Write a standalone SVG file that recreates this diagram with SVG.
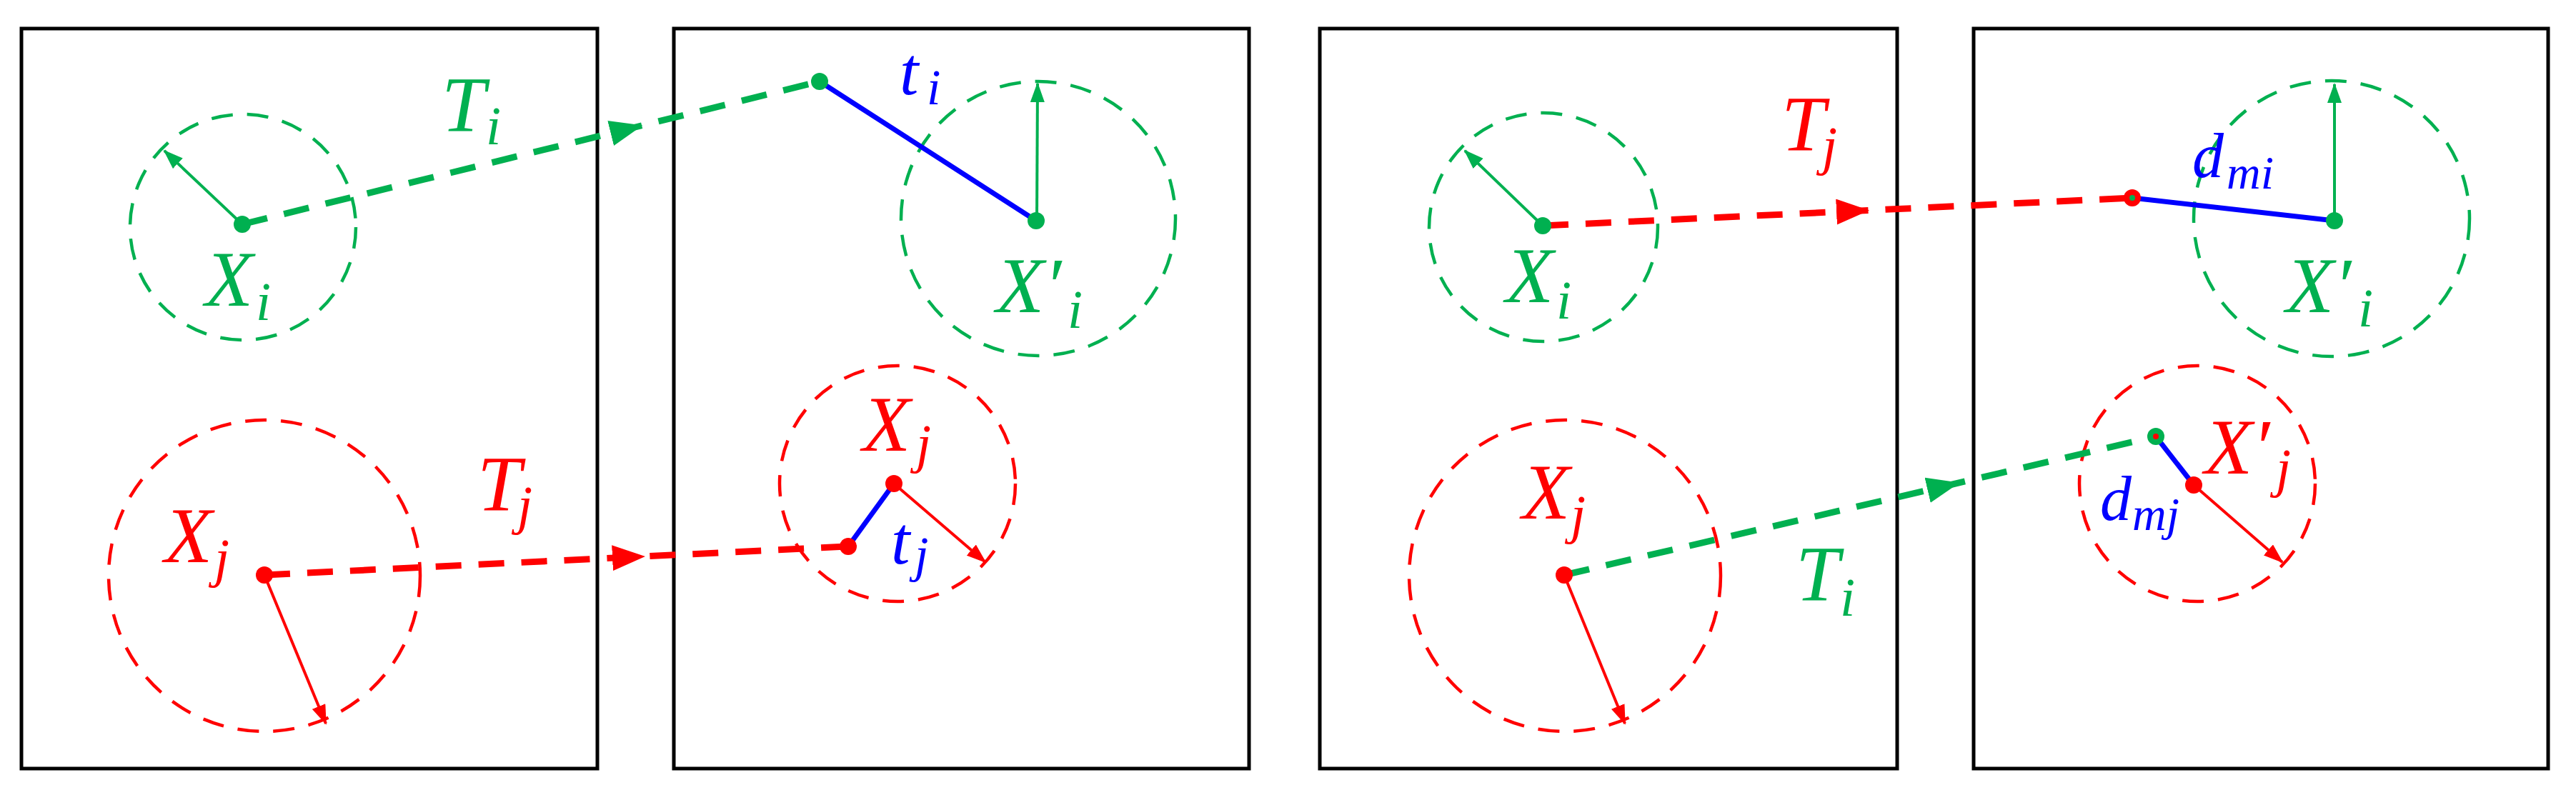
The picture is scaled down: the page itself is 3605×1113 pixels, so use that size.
<svg xmlns="http://www.w3.org/2000/svg" width="3605" height="1113" viewBox="0 0 3605 1113">
<style>
.panel{fill:#fff;stroke:#000;stroke-width:5}
.cg{fill:none;stroke:#00B050;stroke-width:4.5;stroke-dasharray:30 20}
.cr{fill:none;stroke:#FF0000;stroke-width:4.5;stroke-dasharray:30 20}
.rg{stroke:#00B050;stroke-width:4;fill:none;marker-end:url(#smG)}
.rr{stroke:#FF0000;stroke-width:4;fill:none;marker-end:url(#smR)}
.tg{stroke:#00B050;stroke-width:9;fill:none;stroke-dasharray:36 24;marker-mid:url(#ahG)}
.tr{stroke:#FF0000;stroke-width:9;fill:none;stroke-dasharray:36 24;marker-mid:url(#ahR)}
.bl{stroke:#0000FF;stroke-width:7;fill:none}
.dg{fill:#00B050}
.dr{fill:#FF0000}
.lab{font-family:"Liberation Serif","Times New Roman",serif;font-style:italic;font-size:110px}
.sub{font-size:76px}
.g{fill:#00B050}
.r{fill:#FF0000}
.b{fill:#0000FF}
</style>
<defs>
<marker id="ahG" markerUnits="userSpaceOnUse" markerWidth="46" markerHeight="36" refX="23" refY="18" orient="auto"><path d="M0,0 L46,18 L0,36 z" fill="#00B050"/></marker>
<marker id="ahR" markerUnits="userSpaceOnUse" markerWidth="46" markerHeight="36" refX="23" refY="18" orient="auto"><path d="M0,0 L46,18 L0,36 z" fill="#FF0000"/></marker>
<marker id="smG" markerUnits="userSpaceOnUse" markerWidth="28" markerHeight="20" refX="26" refY="10" orient="auto"><path d="M0,0 L28,10 L0,20 z" fill="#00B050"/></marker>
<marker id="smR" markerUnits="userSpaceOnUse" markerWidth="28" markerHeight="20" refX="26" refY="10" orient="auto"><path d="M0,0 L28,10 L0,20 z" fill="#FF0000"/></marker>
</defs>
<rect width="3605" height="1113" fill="#fff"/>

<g id="panel1"><rect class="panel" x="30" y="40" width="806" height="1036"/></g>
<g id="panel2"><rect class="panel" x="943" y="40" width="805" height="1036"/></g>
<g id="panel3"><rect class="panel" x="1847" y="40" width="808" height="1036"/></g>
<g id="panel4"><rect class="panel" x="2762" y="40" width="804" height="1036"/></g>

<!-- Panel 1 -->
<g id="p1-Xi">
<circle class="cg" cx="340" cy="318" r="158"/>
<line class="rg" x1="339" y1="314" x2="230" y2="211"/>
<text class="lab g"><tspan x="287" y="428">X</tspan><tspan class="sub" x="358" y="448">i</tspan></text>
</g>
<g id="p1-Xj">
<circle class="cr" cx="370" cy="806" r="218"/>
<line class="rr" x1="370" y1="805" x2="456" y2="1013"/>
<text class="lab r"><tspan x="230" y="787">X</tspan><tspan class="sub" x="300" y="807">j</tspan></text>
</g>
<g id="p1-Ti"><text class="lab g"><tspan x="618" y="184">T</tspan><tspan class="sub" x="680" y="202">i</tspan></text></g>
<g id="p1-Tj"><text class="lab r"><tspan x="668" y="715">T</tspan><tspan class="sub" x="724" y="733">j</tspan></text></g>

<!-- Panel 2 -->
<g id="p2-Xpi">
<circle class="cg" cx="1453" cy="306" r="192"/>
<line class="rg" x1="1451" y1="309" x2="1452" y2="117"/>
<text class="lab g"><tspan x="1394" y="437">X′</tspan><tspan class="sub" x="1494" y="459">i</tspan></text>
</g>
<g id="p2-Xj">
<circle class="cr" cx="1256" cy="677" r="165"/>
<line class="rr" x1="1251" y1="677" x2="1379" y2="787"/>
<text class="lab r"><tspan x="1207" y="631">X</tspan><tspan class="sub" x="1282" y="647">j</tspan></text>
</g>
<g id="p2-ti"><text class="lab b" style="font-size:95px"><tspan x="1259" y="132">t</tspan><tspan class="sub" style="font-size:70px" x="1297" y="146">i</tspan></text></g>
<g id="p2-tj"><text class="lab b" style="font-size:95px"><tspan x="1247" y="789">t</tspan><tspan class="sub" style="font-size:70px" x="1280" y="800">j</tspan></text></g>

<!-- Panel 3 -->
<g id="p3-Xi">
<circle class="cg" cx="2160" cy="318" r="160"/>
<line class="rg" x1="2159" y1="316" x2="2050" y2="211"/>
<text class="lab g"><tspan x="2107" y="423">X</tspan><tspan class="sub" x="2178" y="446">i</tspan></text>
</g>
<g id="p3-Xj">
<circle class="cr" cx="2190" cy="806" r="218"/>
<line class="rr" x1="2189" y1="805" x2="2274" y2="1013"/>
<text class="lab r"><tspan x="2130" y="726">X</tspan><tspan class="sub" x="2198" y="746">j</tspan></text>
</g>
<g id="p3-Tj"><text class="lab r"><tspan x="2493" y="211">T</tspan><tspan class="sub" x="2550" y="230">j</tspan></text></g>
<g id="p3-Ti"><text class="lab g"><tspan x="2513" y="841">T</tspan><tspan class="sub" x="2575" y="862">i</tspan></text></g>

<!-- Panel 4 -->
<g id="p4-Xpi">
<circle class="cg" cx="3263" cy="306" r="193"/>
<line class="rg" x1="3267" y1="309" x2="3267" y2="118"/>
<text class="lab g"><tspan x="3199" y="437">X′</tspan><tspan class="sub" x="3300" y="457">i</tspan></text>
</g>
<g id="p4-Xpj">
<circle class="cr" cx="3075" cy="677" r="165"/>
<line class="rr" x1="3070" y1="679" x2="3194" y2="787"/>
<text class="lab r"><tspan x="3085" y="663">X′</tspan><tspan class="sub" x="3185" y="681">j</tspan></text>
</g>
<g id="p4-dmi"><text class="lab b" style="font-size:88px"><tspan x="3068" y="248">d</tspan><tspan class="sub" style="font-size:66px" x="3116" y="264">mi</tspan></text></g>
<g id="p4-dmj"><text class="lab b" style="font-size:88px"><tspan x="2939" y="728">d</tspan><tspan class="sub" style="font-size:66px" x="2984" y="742">mj</tspan></text></g>

<!-- Connectors -->
<g id="connectors">
<path class="tg" d="M339,314 L877,181 L1147,114"/>
<path class="tr" d="M370,805 L880,780 L1187,765"/>
<path class="tr" d="M2159,316 L2593,295.5 L2984,277"/>
<path class="tg" d="M2189,805 L2720,681 L3017,611"/>
<line class="bl" x1="1147" y1="114" x2="1450" y2="309"/>
<line class="bl" x1="1187" y1="765" x2="1251" y2="677"/>
<line class="bl" x1="2984" y1="277" x2="3267" y2="309"/>
<line class="bl" x1="3017" y1="611" x2="3070" y2="679"/>
</g>

<!-- Dots -->
<g id="dots">
<circle class="dg" cx="339" cy="314" r="12"/>
<circle class="dr" cx="370" cy="805" r="12"/>
<circle class="dg" cx="1147" cy="114" r="12"/>
<circle class="dg" cx="1450" cy="309" r="12"/>
<circle class="dr" cx="1251" cy="677" r="12"/>
<circle class="dr" cx="1187" cy="765" r="12"/>
<circle class="dg" cx="2159" cy="316" r="12"/>
<circle class="dr" cx="2189" cy="805" r="12"/>
<circle class="dr" cx="2984" cy="277" r="12"/>
<circle class="dg" cx="2984" cy="277" r="4"/>
<circle class="dg" cx="3267" cy="309" r="12"/>
<circle class="dg" cx="3017" cy="611" r="12"/>
<circle class="dr" cx="3017" cy="611" r="4"/>
<circle class="dr" cx="3070" cy="679" r="12"/>
</g>
</svg>
